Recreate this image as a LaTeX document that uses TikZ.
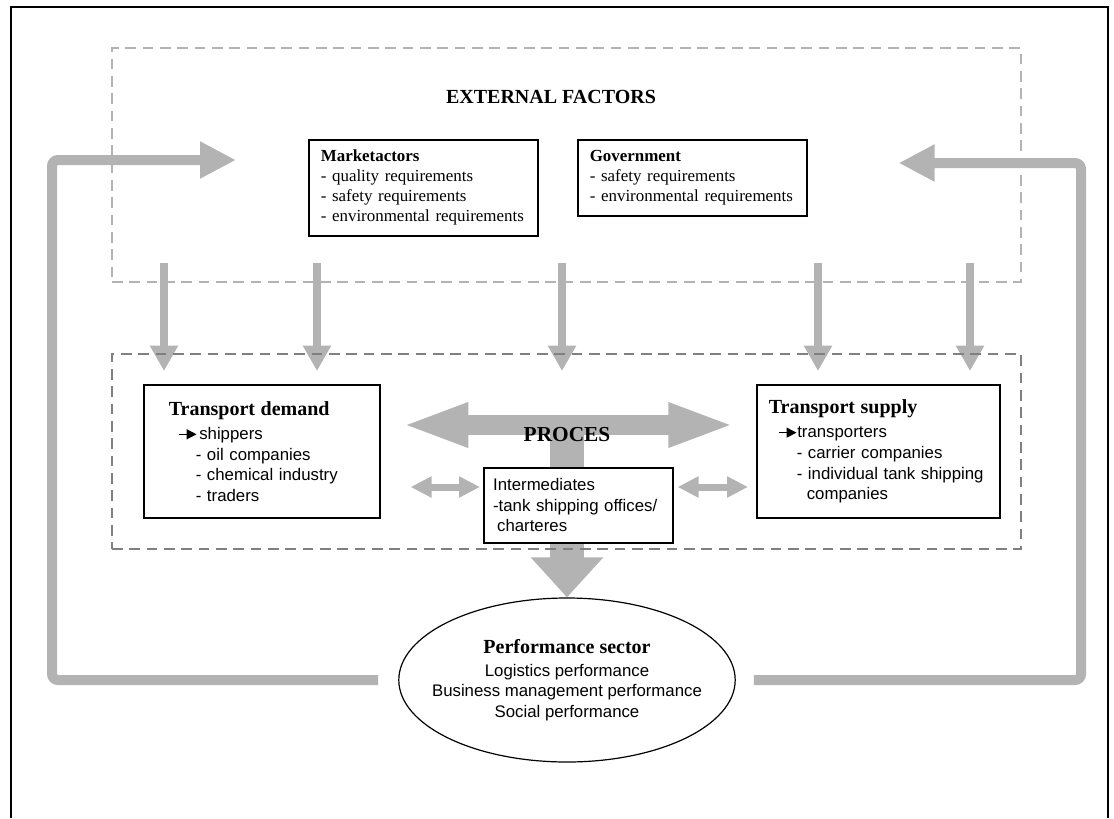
\documentclass[tikz,border=0pt]{standalone}
\usepackage{fontspec}
\setmainfont{Liberation Serif}
\newfontfamily\arialfont{Liberation Sans}
\usepackage{tikz}
\usetikzlibrary{arrows.meta,positioning,shapes.geometric,fit,calc,backgrounds}
\definecolor{flowgray}{HTML}{B3B3B3}
\definecolor{zonegray}{HTML}{808080}
\newcommand{\headfont}{\fontsize{15}{17}\selectfont\rmfamily\bfseries}
\newcommand{\listfont}{\fontsize{12.6}{15.4}\selectfont\arialfont}
\newcommand{\pointer}{\tikz[baseline=-0.6ex]\draw[black,line width=1.1pt,-{Triangle[length=7.5pt,width=7.5pt]}] (0,0) -- (13.5pt,0);}
\tikzset{
  ms/zone/.style={draw=flowgray, line width=1.5pt, dash pattern=on 8pt off 5pt, inner sep=0pt},
  ms/box/.style={draw, line width=1.2pt, fill=white, anchor=north west, align=left, inner ysep=0pt},
  ms/factor/.style={ms/box, text width=153.75pt, inner xsep=9pt, font=\fontsize{12.7}{15}\selectfont},
  ms/sector/.style={draw, ellipse, line width=0.9pt, fill=white, align=center, inner xsep=-12pt, inner ysep=0pt, minimum width=252pt, minimum height=123pt}
}

\begin{document}
\begin{tikzpicture}[x=0.75pt, y=-0.75pt,
  fb/.style={draw=flowgray, line width=7.5pt, rounded corners=4.5pt, -{Triangle[length=27pt,width=26pt]}},
  infl/.style={draw=flowgray, line width=6pt, -{Triangle[length=19pt,width=20pt]}},
  procarr/.style={draw=flowgray, line width=15pt, {Triangle[length=50pt,width=30pt]}-{Triangle[length=50pt,width=30pt]}},
  stem/.style={draw=flowgray, line width=26pt},
  sidearr/.style={draw=flowgray, line width=5.25pt, {Triangle[length=15.75pt,width=15pt]}-{Triangle[length=15.75pt,width=15pt]}},
  outarr/.style={draw=flowgray, line width=26pt, -{Triangle[length=30pt,width=52.5pt]}}]
\useasboundingbox (0,0) rectangle (1114,818);
\draw[line width=1pt] (11,818) -- (11,7) -- (1108,7) -- (1108,818);

% the two zones
\node[ms/zone, fit={(112,48) (1021,282)}] (ext) {};
\node[ms/zone, draw=zonegray, fit={(112,354) (1021,549)}] (zone) {};
\node[font=\headfont] (extt) at (551,97) {EXTERNAL FACTORS};

\node[ms/factor, minimum height=72pt] (mkt) at (308,139)
  {\textbf{Marketactors}\\- quality requirements\\- safety requirements\\- environmental requirements};
\node[ms/factor, minimum height=57pt] (gov) at (577,139)
  {\textbf{Government}\\- safety requirements\\- environmental requirements};

\node[ms/box, text width=139.5pt, inner xsep=18.75pt, minimum height=99.75pt, font=\listfont] (dem) at (143,384)
  {{\headfont Transport demand}\\[3pt]
   \hspace*{6.75pt}\pointer\hspace{1.5pt}shippers\\
   \hspace*{20.25pt}- oil companies\\
   \hspace*{20.25pt}- chemical industry\\
   \hspace*{20.25pt}- traders};
\node[ms/box, text width=164.25pt, inner xsep=9pt, minimum height=99.75pt, font=\listfont] (sup) at (756,384)
  {{\headfont Transport supply}\\[3pt]
   \hspace*{6.75pt}\pointer transporters\\
   \hspace*{21pt}- carrier companies\\
   \hspace*{21pt}- individual tank shipping\\
   \hspace*{28.5pt}companies};
\node[ms/box, text width=127.75pt, inner xsep=7pt, minimum height=56.25pt, font=\listfont] (inter) at (483,467)
  {Intermediates\\-tank shipping offices/\\\hspace*{3pt}charteres};
\node[font=\fontsize{16}{18}\selectfont\bfseries] (proc) at (567,435) {PROCES};

\node[ms/sector, font=\listfont] (perf) at (567,680)
  {{\headfont Performance sector}\\[2pt]Logistics performance\\Business management performance\\Social performance};

\coordinate (pmid) at (567,425);
\coordinate (side) at (567,487);

\begin{scope}[on background layer]
\draw[fb, shorten <=15pt, shorten >=54pt] (perf.west) -| (52,160) -- (mkt.west |- 52,160);
\draw[fb, shorten <=13.5pt, shorten >=68.25pt] (perf.east) -| (1081,163) -- (gov.east |- 1081,163);
\foreach \x in {164,317,562,818,970}
  \draw[infl] ($(ext.south -| \x,0)+(0,-20)$) -- ($(zone.north -| \x,0)+(0,18)$);
\draw[procarr, shorten <=15.75pt, shorten >=15.75pt] (dem.east |- pmid) -- (sup.west |- pmid);
\draw[stem] (pmid) -- (pmid |- inter.north);
\draw[sidearr, shorten <=22.5pt, shorten >=2.25pt] (dem.east |- side) -- (inter.west |- side);
\draw[sidearr, shorten <=3pt, shorten >=6pt] (inter.east |- side) -- (sup.west |- side);
\draw[outarr] (pmid |- inter.south) -- (perf.north);
\end{scope}
\end{tikzpicture}
\end{document}
